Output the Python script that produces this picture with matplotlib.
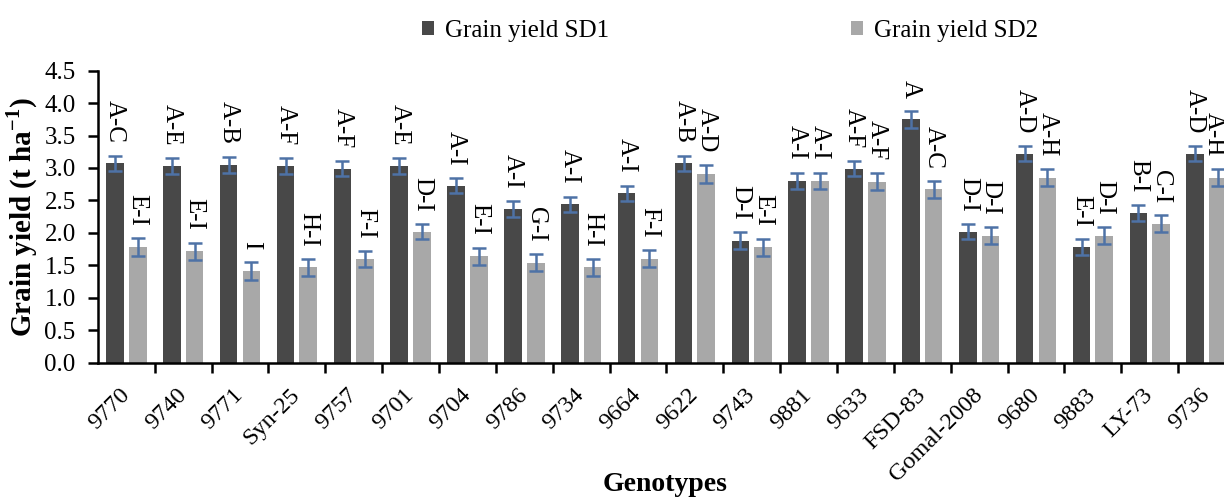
import matplotlib
matplotlib.use('Agg')
import numpy as np
from matplotlib import pyplot as plt

genotypes = ['9770', '9740', '9771', 'Syn-25', '9757', '9701', '9704', '9786',
             '9734', '9664', '9622', '9743', '9881', '9633', 'FSD-83',
             'Gomal-2008', '9680', '9883', 'LY-73', '9736']

sd1 = [3.07, 3.03, 3.05, 3.03, 2.99, 3.03, 2.73, 2.37, 2.44, 2.61,
       3.07, 1.88, 2.80, 2.99, 3.75, 2.02, 3.22, 1.78, 2.31, 3.22]
sd2 = [1.78, 1.72, 1.41, 1.47, 1.60, 2.02, 1.64, 1.54, 1.47, 1.60,
       2.91, 1.78, 2.80, 2.79, 2.67, 1.96, 2.85, 1.96, 2.14, 2.85]
sd1_err = [0.12, 0.13, 0.12, 0.13, 0.12, 0.13, 0.12, 0.12, 0.12, 0.12,
           0.12, 0.13, 0.13, 0.12, 0.13, 0.12, 0.12, 0.12, 0.12, 0.12]
sd2_err = [0.14, 0.13, 0.14, 0.13, 0.12, 0.12, 0.13, 0.13, 0.13, 0.13,
           0.14, 0.13, 0.13, 0.13, 0.13, 0.13, 0.13, 0.13, 0.13, 0.13]

sd1_letters = ['A-C', 'A-E', 'A-B', 'A-F', 'A-F', 'A-E', 'A-I', 'A-I', 'A-I', 'A-I',
               'A-B', 'D-I', 'A-I', 'A-F', 'A', 'D-I', 'A-D', 'E-I', 'B-I', 'A-D']
sd2_letters = ['E-I', 'E-I', 'I', 'H-I', 'F-I', 'D-I', 'E-I', 'G-I', 'H-I', 'F-I',
               'A-D', 'E-I', 'A-I', 'A-F', 'A-C', 'D-I', 'A-H', 'D-I', 'C-I', 'A-H']

plt.rcParams['font.family'] = ['Liberation Serif', 'DejaVu Serif']

fig = plt.figure(figsize=(12.24, 4.97), dpi=100)
ax = fig.add_axes([0.080, 0.270, 0.929, 0.588])

x = np.arange(len(genotypes))
w = 0.31
off = 0.2
err_kw = dict(ecolor='#4e72a6', elinewidth=1.8, capsize=5, capthick=1.8)
ax.bar(x - off, sd1, w, color='#484848', yerr=sd1_err, error_kw=err_kw,
       label='Grain yield SD1')
ax.bar(x + off, sd2, w, color='#a8a8a8', yerr=sd2_err, error_kw=err_kw,
       label='Grain yield SD2')

# significance letters above the error bars
for i in range(len(genotypes)):
    ax.annotate(sd1_letters[i], (x[i] - off, sd1[i] + sd1_err[i]),
                xytext=(0, 9), textcoords='offset points', rotation=270,
                ha='center', va='bottom', fontsize=18)
    # last label sits right on the figure edge, nudge it inside
    dx = -3 if i == len(genotypes) - 1 else 0
    ax.annotate(sd2_letters[i], (x[i] + off, sd2[i] + sd2_err[i]),
                xytext=(dx, 9), textcoords='offset points', rotation=270,
                ha='center', va='bottom', fontsize=18)

ax.set_xlim(-0.5, len(genotypes) - 0.5)
ax.set_ylim(0, 4.5)
ax.set_yticks(np.arange(0, 4.51, 0.5))
ax.set_yticklabels(['%.1f' % v for v in np.arange(0, 4.51, 0.5)])
ax.set_xticks(x + 0.5, minor=False)
ax.set_xticklabels([])
ax.set_xticks(x, minor=True)
ax.set_xticklabels(genotypes, minor=True, rotation=45, ha='right',
                   va='center', rotation_mode='anchor')
ax.tick_params(axis='x', which='minor', length=0, labelsize=17.5, pad=21)
ax.tick_params(axis='x', which='major', length=7, width=1.8, direction='out')
ax.tick_params(axis='y', length=7, width=1.8, labelsize=18, direction='out',
               pad=9)

for s in ['top', 'right']:
    ax.spines[s].set_visible(False)
ax.spines['left'].set_linewidth(1.8)
ax.spines['bottom'].set_linewidth(1.8)

ax.set_ylabel('Grain yield (t ha$^{\\mathregular{-1}}$)', fontsize=21,
              fontweight='bold', labelpad=3)
fig.text(0.543, 0.0, 'Genotypes', fontsize=20, fontweight='bold',
         ha='center', va='bottom')

fig.legend(loc='upper center', bbox_to_anchor=(0.5964, 1.005), ncol=2,
           frameon=False, fontsize=18, handlelength=0.48, handleheight=0.48,
           handletextpad=0.44, columnspacing=9.7)

fig.savefig('out.png', dpi=100)
